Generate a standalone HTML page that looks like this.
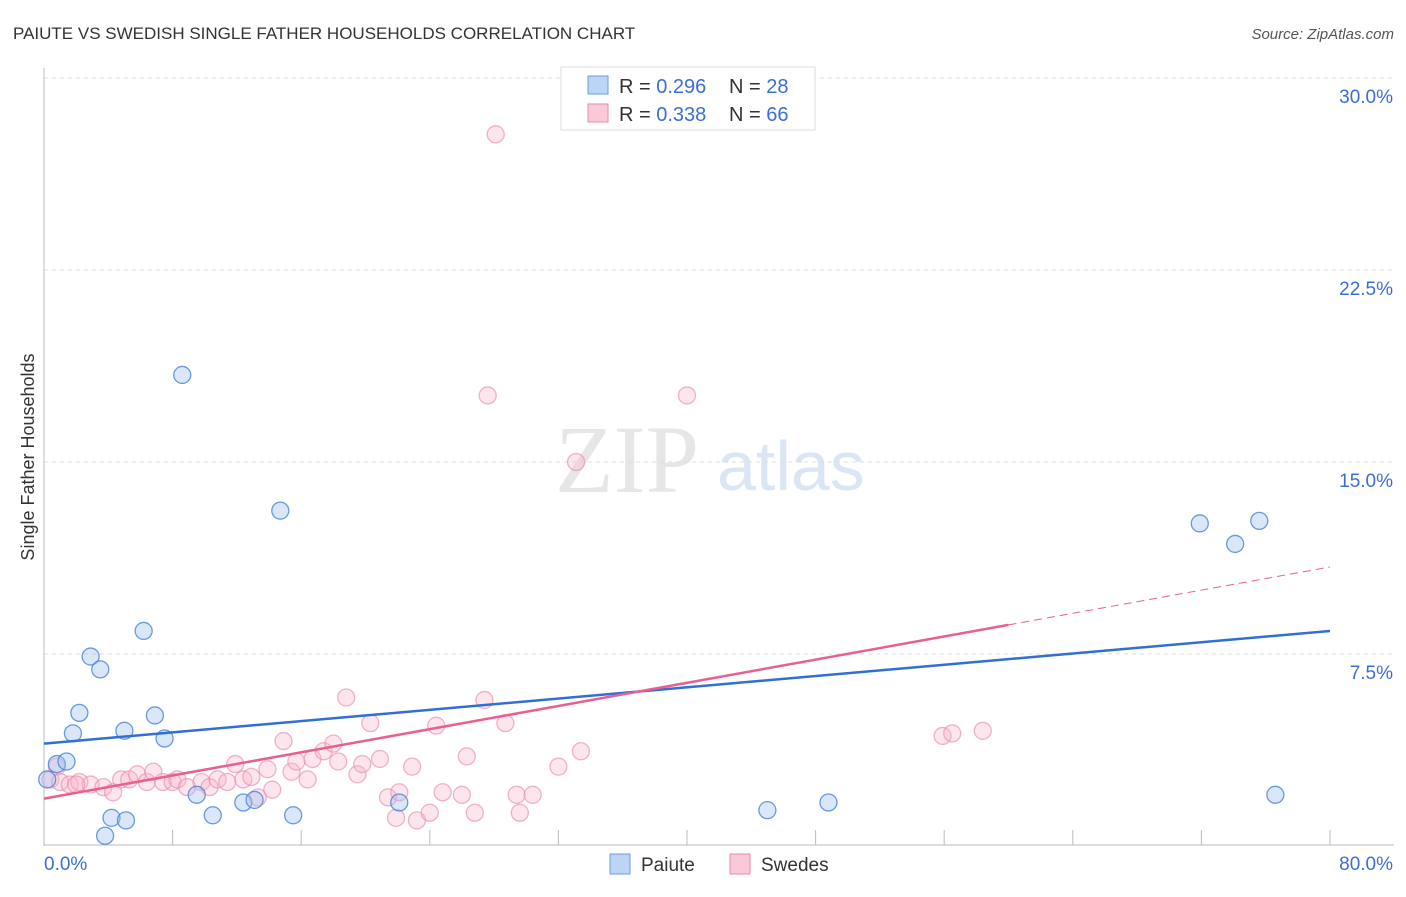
<!DOCTYPE html>
<html><head><meta charset="utf-8"><style>
body{margin:0;background:#fff;font-family:"Liberation Sans",sans-serif;}
</style></head><body>
<svg id="c" width="1406" height="892" xmlns="http://www.w3.org/2000/svg">
<text x="13" y="39" font-size="17" fill="#333">PAIUTE VS SWEDISH SINGLE FATHER HOUSEHOLDS CORRELATION CHART</text>
<text x="1394" y="39" font-size="15" fill="#555" font-style="italic" text-anchor="end">Source: ZipAtlas.com</text>
<text x="34" y="457" font-size="18" fill="#333" text-anchor="middle" transform="rotate(-90 34 457)">Single Father Households</text>
<text x="555" y="492" font-size="96" fill="#e6e6e6" font-family="Liberation Serif,serif">ZIP</text>
<text x="717" y="490" font-size="70" fill="#dbe6f5">atlas</text>
<g id="grid"></g><g id="axes"></g><g id="pts"></g><g id="lines"></g>
<g>
<rect x="561" y="67" width="254" height="63" fill="#fff" stroke="#ddd"/>
<rect x="588" y="76" width="20" height="18" fill="#bcd4f5" stroke="#6a9be0"/>
<rect x="588" y="104" width="20" height="18" fill="#f9c9d7" stroke="#ea8aaa"/>
<text x="619" y="93" font-size="20" fill="#333">R = <tspan fill="#3b6fd4">0.296</tspan></text>
<text x="729" y="93" font-size="20" fill="#333">N = <tspan fill="#3b6fd4">28</tspan></text>
<text x="619" y="121" font-size="20" fill="#333">R = <tspan fill="#3b6fd4">0.338</tspan></text>
<text x="729" y="121" font-size="20" fill="#333">N = <tspan fill="#3b6fd4">66</tspan></text>
</g>
<g>
<rect x="610" y="854" width="20" height="20" fill="#bcd4f5" stroke="#6a9be0"/>
<text x="641" y="871" font-size="19" fill="#333">Paiute</text>
<rect x="730" y="854" width="20" height="20" fill="#f9c9d7" stroke="#ea8aaa"/>
<text x="761" y="871" font-size="19" fill="#333">Swedes</text>
</g>
</svg>
<script>
const yTicks=[7.5,15,22.5,30];
const yTickLabels=["7.5%","15.0%","22.5%","30.0%"];
const xTicks=[0,8,16,24,32,40,48,56,64,72,80];
const paiuteX=[0.2,0.8,1.4,1.8,2.2,2.9,3.5,4.2,3.8,5.1,5.0,6.2,6.9,7.5,8.6,9.5,10.5,12.4,13.1,14.7,15.5,22.1,45.0,48.8,71.9,74.1,75.6,76.6];
const paiuteY=[2.6,3.2,3.3,4.4,5.2,7.4,6.9,1.1,0.4,1.0,4.5,8.4,5.1,4.2,18.4,2.0,1.2,1.7,1.8,13.1,1.2,1.7,1.4,1.7,12.6,11.8,12.7,2.0];
const swedesX=[0.4,0.8,1.0,1.6,2.2,2.9,3.7,4.3,4.8,5.3,5.8,6.4,6.8,7.4,8.0,8.3,8.9,9.8,10.3,10.8,11.4,11.9,12.4,12.9,13.3,13.9,14.2,14.9,15.4,15.7,16.4,16.7,17.4,18.0,18.3,18.8,19.5,19.8,20.3,20.9,21.4,22.1,21.9,22.9,23.2,24.0,24.4,24.8,26.0,26.3,26.8,27.4,28.7,29.4,29.6,32.0,33.4,28.1,27.6,40.0,33.1,55.9,56.5,58.4,30.4,2.0];
const swedesY=[2.6,3.1,2.5,2.4,2.5,2.4,2.3,2.1,2.6,2.6,2.8,2.5,2.9,2.5,2.5,2.6,2.3,2.5,2.3,2.6,2.5,3.2,2.6,2.7,1.9,3.0,2.2,4.1,2.9,3.3,2.6,3.4,3.7,4.0,3.3,5.8,2.8,3.2,4.8,3.4,1.9,2.1,1.1,3.1,1.0,1.3,4.7,2.1,2.0,3.5,1.3,5.7,4.8,2.0,1.3,3.1,3.7,27.8,17.6,17.6,15.0,4.3,4.4,4.5,2.0,2.4];
const X0=44,X1=1330,Y0=846,Y1=78;
const sx=v=>X0+(v/80)*(X1-X0), sy=v=>Y0-(v/30)*(Y0-Y1);
const NS="http://www.w3.org/2000/svg";
function mk(p,t,a){const e=document.createElementNS(NS,t);for(const k in a)e.setAttribute(k,a[k]);document.getElementById(p).appendChild(e);return e;}
yTicks.forEach((v,i)=>{
 const l=mk('grid','line',{x1:X0,x2:1394,y1:sy(v),y2:sy(v),stroke:'#ddd','stroke-dasharray':'4,4'});
 
 
 const t=mk('grid','text',{x:1393,y:sy(v)+25,'font-size':19,fill:'#3b6fd4','text-anchor':'end'});
 t.textContent=yTickLabels[i];
 
 
});
let a=mk('axes','line',{x1:X0,x2:X0,y1:68,y2:Y0,stroke:'#bbb'});


a=mk('axes','line',{x1:X0,x2:1394,y1:Y0-1,y2:Y0-1,stroke:'#bbb'});


xTicks.forEach(v=>{const t=mk('axes','line',{x1:sx(v),x2:sx(v),y1:Y0-1,y2:Y0-16,stroke:'#bbb'});
 
 });
let t=mk('axes','text',{x:44,y:870,'font-size':19,fill:'#3b6fd4'});t.textContent='0.0%';


t=mk('axes','text',{x:1393,y:870,'font-size':19,fill:'#3b6fd4','text-anchor':'end'});t.textContent='80.0%';


swedesX.forEach((x,i)=>{const c=mk('pts','circle',{cx:sx(x),cy:sy(swedesY[i]),r:8.5,fill:'rgba(248,180,202,0.35)',stroke:'rgba(234,140,172,0.65)','stroke-width':1.3});
 
 });
paiuteX.forEach((x,i)=>{const c=mk('pts','circle',{cx:sx(x),cy:sy(paiuteY[i]),r:8.5,fill:'rgba(160,195,240,0.4)',stroke:'rgba(70,130,215,0.8)','stroke-width':1.3});
 
 });
const paiuteTrend=[4.0,8.4], swedesTrend=[1.85,10.9], swedesSolidEnd=60;
let l=mk('lines','line',{x1:sx(0),y1:sy(paiuteTrend[0]),x2:sx(80),y2:sy(paiuteTrend[1]),stroke:'#2f6fd6','stroke-width':2.5});


const sw=v=>swedesTrend[0]+(swedesTrend[1]-swedesTrend[0])*v/80;
l=mk('lines','line',{x1:sx(0),y1:sy(sw(0)),x2:sx(swedesSolidEnd),y2:sy(sw(swedesSolidEnd)),stroke:'#e8608f','stroke-width':2.5});


l=mk('lines','line',{x1:sx(swedesSolidEnd),y1:sy(sw(swedesSolidEnd)),x2:sx(80),y2:sy(sw(80)),stroke:'#e8608f','stroke-width':1,'stroke-dasharray':'8,5'});


</script>
</body></html>
